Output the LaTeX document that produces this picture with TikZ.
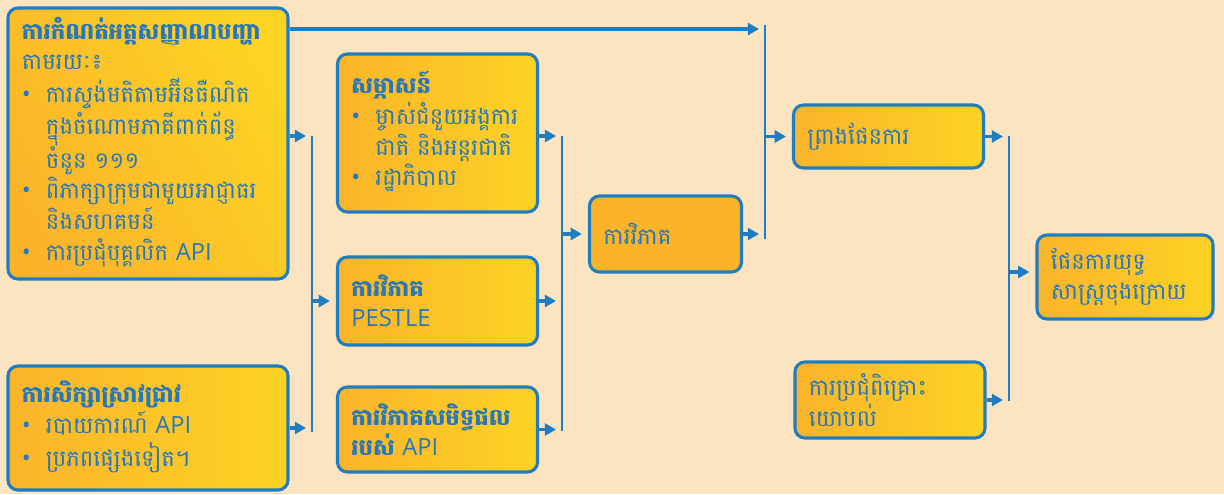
\documentclass[tikz,border=0pt]{standalone}
\usepackage{fontspec}
\usepackage{array}
\setmainfont[Script=Khmer]{Battambang}
\newfontfamily\lat[Scale=1.04]{Open Sans}
\usetikzlibrary{arrows.meta, positioning, calc}

\definecolor{bgpeach}{RGB}{252,228,193}
\definecolor{boxblue}{RGB}{31,125,193}
\definecolor{txtblue}{RGB}{38,120,186}
\definecolor{boxorange}{RGB}{251,180,42}
\definecolor{boxyellow}{RGB}{253,211,36}

\newcommand{\bul}{{\lat\textbullet}}
\newcommand{\api}{{\lat API}}

\tikzset{
    stagebox/.style={rectangle, draw=boxblue, line width=2.2pt, rounded corners=0.25cm,
        left color=boxorange, right color=boxyellow, text=txtblue, align=left,
        inner xsep=0.35cm, inner ysep=0.1cm, font=\fontsize{16.2}{21.5}\selectfont},
    flowarrow/.style={draw=boxblue, line width=2.4pt, -{Triangle[length=0.28cm,width=0.3cm]}, shorten >=0.15cm},
    busline/.style={draw=boxblue, line width=2pt}
}

\begin{document}
\begin{tikzpicture}[x=0.025cm, y=-0.025cm]
    \fill[bgpeach] (0,0) rectangle (1224,494);
    \useasboundingbox (0,0) rectangle (1224,494);

    % Identificazione del problema
    \node[stagebox, shading angle=120, text width=6.3cm, minimum width=7cm, minimum height=6.775cm] (ident) at (148,143.5) {
        \begin{tabular}{@{}p{0.6cm}@{}l@{}}
        \multicolumn{2}{@{}l@{}}{\bfseries ការកំណត់អត្តសញ្ញាណបញ្ហា} \\
        \multicolumn{2}{@{}l@{}}{តាមរយៈ៖} \\
        \bul & ការស្ទង់មតិតាមអ៊ីនធឺណិត \\
             & ក្នុងចំណោមភាគីពាក់ព័ន្ធ \\
             & ចំនួន ១១១ \\
        \bul & ពិភាក្សាក្រុមជាមួយអាជ្ញាធរ \\
             & និងសហគមន៍ \\
        \bul & ការប្រជុំបុគ្គលិក \api
        \end{tabular}
    };
    % Ricerca
    \node[stagebox, text width=6.3cm, minimum width=7cm, minimum height=3.1cm] (research) at (148,428) {
        \begin{tabular}{@{}p{0.6cm}@{}l@{}}
        \multicolumn{2}{@{}l@{}}{\bfseries ការសិក្សាស្រាវជ្រាវ} \\
        \bul & របាយការណ៍ \api \\
        \bul & ប្រភពផ្សេងទៀត។
        \end{tabular}
    };

    % Interviste e analisi
    \node[stagebox, text width=4.3cm, minimum width=4.975cm, minimum height=3.95cm] (interview) at (437.5,133) {
        \begin{tabular}{@{}p{0.6cm}@{}l@{}}
        \multicolumn{2}{@{}l@{}}{\bfseries សម្ភាសន៍} \\
        \bul & ម្ចាស់ជំនួយអង្គការ \\
             & ជាតិ និងអន្តរជាតិ \\
        \bul & រដ្ឋាភិបាល
        \end{tabular}
    };
    \node[stagebox, text width=4.3cm, minimum width=4.975cm, minimum height=2.2cm] (pestle) at (437.5,301) {
        {\bfseries ការវិភាគ} \\ {\lat PESTLE}
    };
    \node[stagebox, text width=4.3cm, minimum width=4.975cm, minimum height=2.125cm] (achieve) at (437.5,429.5) {
        {\bfseries ការវិភាគសមិទ្ធផល} \\ {\bfseries របស់} \api
    };

    % Analisi
    \node[stagebox, left color=boxorange, right color=boxorange, text width=3.1cm, minimum width=3.775cm, minimum height=1.9cm] (analysis) at (665.5,234) {ការវិភាគ};

    % Piano
    \node[stagebox, text width=4.05cm, minimum width=4.725cm, minimum height=1.575cm] (draft) at (888.5,136.5) {ព្រាងផែនការ};
    \node[stagebox, text width=4.05cm, minimum width=4.75cm, minimum height=1.9cm] (consult) at (890,400) {ការប្រជុំពិគ្រោះ \\ យោបល់};
    \node[stagebox, text width=3.7cm, minimum width=4.4cm, minimum height=2.1cm] (final) at (1125,277) {ផែនការយុទ្ធ \\ សាស្ត្រចុងក្រោយ};

    % Barre di raccolta
    \coordinate (bar1top) at (312,136);
    \coordinate (bar1bot) at (312,432);
    \coordinate (bar2top) at (562,136);
    \coordinate (bar2bot) at (562,431);
    \coordinate (bar3top) at (765,25);
    \coordinate (bar3bot) at (765,239);
    \coordinate (bar4top) at (1009,136);
    \coordinate (bar4bot) at (1009,401);
    \foreach \b in {1,...,4}
        \draw[busline] (bar\b top) -- (bar\b bot);
    \coordinate (bar3in) at (765,29);
    \coordinate (bar4out) at (1009,272);

    % Frecce
    \draw[flowarrow] (ident.east |- bar1top) -- (bar1top);
    \draw[flowarrow] (research.east) -- (research.east -| bar1top);
    \draw[flowarrow] (bar1top |- pestle.west) -- (pestle.west);
    \draw[flowarrow] (interview.east |- bar2top) -- (bar2top);
    \draw[flowarrow] (pestle.east) -- (pestle.east -| bar2top);
    \draw[flowarrow] (achieve.east) -- (achieve.east -| bar2top);
    \draw[flowarrow] (bar2top |- analysis.west) -- (analysis.west);
    \draw[flowarrow] (ident.east |- bar3in) -- (bar3in);
    \draw[flowarrow] (analysis.east) -- (analysis.east -| bar3top);
    \draw[flowarrow] (bar3top |- draft.west) -- (draft.west);
    \draw[flowarrow] (draft.east) -- (draft.east -| bar4top);
    \draw[flowarrow] (consult.east) -- (consult.east -| bar4top);
    \draw[flowarrow] (bar4out) -- (final.west |- bar4out);
\end{tikzpicture}
\end{document}
